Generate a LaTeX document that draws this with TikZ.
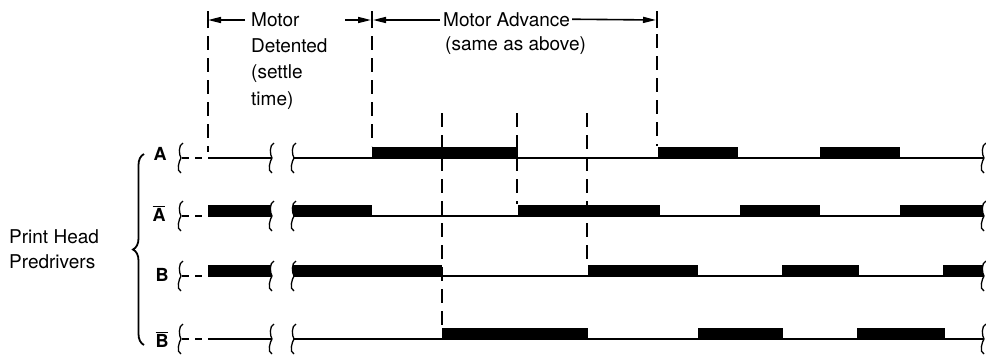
\documentclass[tikz,border=0pt]{standalone}
\usepackage{fontspec}
\setmainfont{TeX Gyre Heros}
\usetikzlibrary{arrows.meta,decorations.pathreplacing}

% break mark on a signal line
\newcommand{\brkmark}[2]{%
  \draw[brk] (#1+3,#2-15) .. controls (#1-2,#2-13) and (#1-1,#2-3) .. (#1+1,#2)
    .. controls (#1-1,#2+3) and (#1-4,#2+13) .. (#1+1,#2+15);}

\begin{document}
\begin{tikzpicture}[x=1pt,y=-1pt,
    every node/.style={font=\fontsize{19}{26}\selectfont,inner sep=0pt},
    sname/.style={font=\fontsize{18}{18}\selectfont\bfseries},
    sig/.style={line width=1.4pt},
    brk/.style={line width=1.3pt},
    guide/.style={line width=1.4pt,dash pattern=on 14pt off 8pt},
    lead/.style={line width=1.4pt,dash pattern=on 7pt off 6pt},
    tick/.style={line width=1.5pt},
    dim/.style={-{Triangle[length=13pt,width=6pt]},line width=1.6pt}
  ]
  \useasboundingbox (0,0) rectangle (986,357);

  % top dimension marks
  \coordinate (t0) at (208,20);
  \coordinate (t1) at (372,20);
  \coordinate (t2) at (657,20);
  \foreach \c in {t0,t1,t2}
    \draw[tick] ([yshift=-8pt]\c) -- ([yshift=9pt]\c);
  \node[anchor=base west] (motor) at (251,26) {Motor};
  \node[anchor=base west] (det1) at (251,52) {Detented};
  \node[anchor=base west] (det2) at (251,78) {(settle};
  \node[anchor=base west] (det3) at (251,105) {time)};
  \node[anchor=base west] (adv) at (443,26) {Motor Advance};
  \node[anchor=base west] (same) at (445,50) {(same as above)};
  \draw[dim] (245,20) -- (t0);
  \draw[dim] (345,20) -- ([xshift=-1pt]t1);
  \draw[dim] (440,20) -- ([xshift=1pt]t1);
  \draw[dim] ([xshift=2pt]adv.east) -- ([xshift=-1pt]t2);

  % guide lines
  \draw[guide] (208,36) -- (208,152);
  \draw[guide] (372,36) -- (372,146);
  \draw[guide] (657,34) -- (657,146);
  \draw[guide] (442,113) -- (442,327);
  \draw[guide] (517,113) -- (517,204);
  \draw[guide] (587,113) -- (587,264);

  % signals
  \node[sname,anchor=base] (sA) at (160,160) {A};
  \node[sname,anchor=base] (sAn) at (159,221) {$\overline{\mbox{A}}$};
  \node[sname,anchor=base] (sB) at (162,281) {B};
  \node[sname,anchor=base] (sBn) at (162,347) {$\overline{\mbox{B}}$};
  \foreach \yy/\bars in {158/{372/518,658/738,820/900},
      216/{208/271,293/372,518/660,740/820,900/983},
      276/{208/271,293/442,588/698,782/859,943/983},
      339/{442/588,698/783,857/945}} {
    \draw[sig] (208,\yy) -- (271,\yy) (293,\yy) -- (983,\yy);
    \foreach \xa/\xb in \bars
      \fill (\xa,\yy) rectangle (\xb,\yy-11);
    \draw[lead] (182,\yy) -- (203,\yy);
    \brkmark{180}{\yy}
    \brkmark{271}{\yy}
    \brkmark{293}{\yy}
    \brkmark{983}{\yy}
  }

  % group
  \draw[line width=1.8pt,decoration={brace,amplitude=11pt},decorate]
    (144,345) -- (144,154);
  \node[anchor=base west] (ph1) at (9,243) {Print Head};
  \node[anchor=base west] (ph2) at (9,268) {Predrivers};
\end{tikzpicture}
\end{document}
